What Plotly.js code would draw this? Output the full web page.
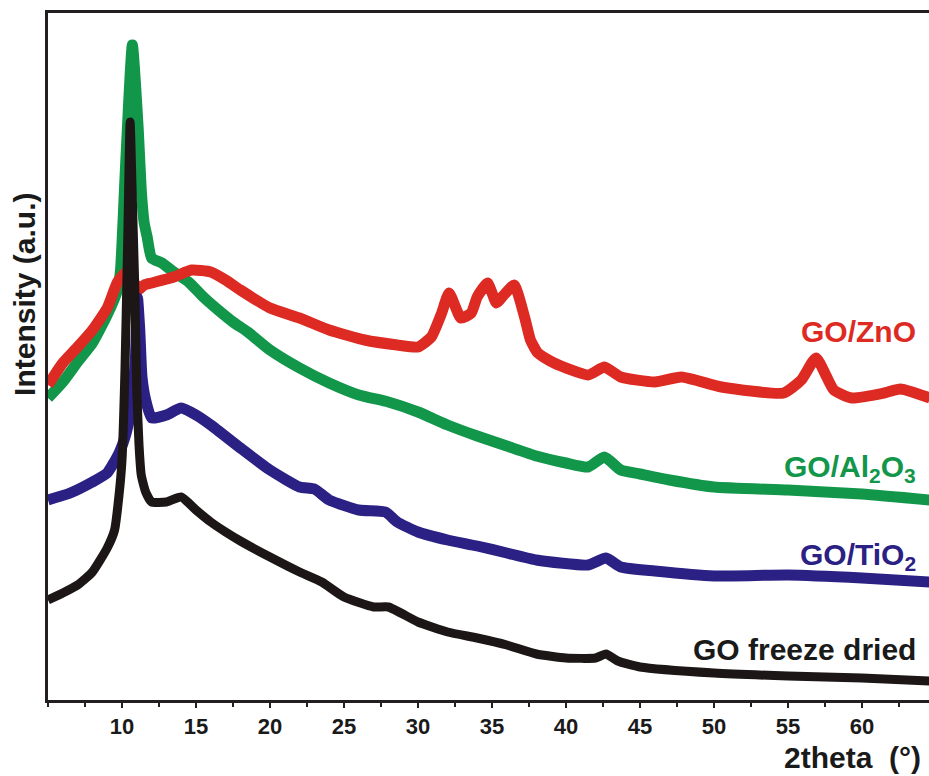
<!DOCTYPE html>
<html>
<head>
<meta charset="utf-8">
<script src="https://cdn.plot.ly/plotly-3.0.1.min.js"></script>
<style>html,body{margin:0;padding:0;background:#fff;}#chart{width:929px;height:776px;}</style>
</head>
<body>
<div id="chart"></div>
<script>
// 2theta (degrees) and intensity (a.u.), one array per series
var goX = [5.0, 6.0, 7.0, 8.0, 9.0, 9.5, 9.8, 10.0, 10.2, 10.4, 10.55, 10.7, 10.85, 11.0, 11.15, 11.3, 11.6, 12.0, 13.0, 14.0, 15.0, 16.0, 17.0, 18.0, 20.0, 22.0, 23.5, 25.0, 27.0, 28.0, 30.0, 32.0, 34.0, 36.0, 38.0, 40.0, 42.0, 42.7, 43.5, 45.0, 50.0, 55.0, 60.0, 64.6];
var goY = [100, 107, 115, 128, 152, 170, 205, 240, 330, 470, 578, 500, 420, 310, 255, 225, 208, 198, 198, 203, 190, 178, 168, 159, 143, 128, 118, 103, 93, 93, 78, 68, 62, 55, 46, 42, 42, 46, 39, 33, 27, 24, 22, 19];

var tiX = [5.0, 6.5, 8.0, 9.0, 9.8, 10.3, 10.6, 10.9, 11.05, 11.2, 11.35, 11.6, 12.0, 13.0, 14.0, 15.0, 16.0, 18.0, 20.0, 22.0, 23.0, 24.0, 26.0, 27.8, 28.6, 30.0, 32.0, 34.0, 36.0, 38.0, 41.5, 42.7, 43.7, 46.0, 50.0, 55.0, 60.0, 64.6];
var tiY = [200, 207, 218, 227, 247, 268, 290, 340, 402, 370, 323, 300, 282, 285, 292, 285, 275, 252, 230, 213, 211, 200, 190, 188, 178, 168, 160, 154, 147, 140, 135, 142, 133, 129, 124, 125, 122, 118];

var alX = [5.0, 6.0, 7.0, 8.0, 9.0, 9.7, 9.9, 10.25, 10.7, 11.1, 11.3, 11.5, 11.7, 12.0, 12.7, 13.5, 14.5, 15.5, 16.5, 17.5, 18.5, 20.0, 22.0, 24.0, 26.0, 28.0, 30.0, 32.0, 34.0, 36.0, 38.0, 40.0, 41.5, 42.6, 43.7, 45.0, 47.0, 50.0, 55.0, 60.0, 64.6];
var alY = [302, 318, 338, 357, 385, 410, 430, 537, 655, 570, 510, 477, 463, 442, 437, 428, 418, 403, 390, 378, 368, 350, 332, 317, 305, 298, 288, 275, 264, 254, 244, 237, 233, 243, 230, 226, 220, 213, 210, 206, 200];

var znX = [5.0, 6.0, 7.0, 8.0, 9.0, 9.7, 10.45, 10.8, 11.1, 11.5, 12.0, 13.5, 14.7, 16.0, 17.0, 18.0, 20.0, 22.0, 24.0, 26.4, 28.6, 30.0, 30.9, 31.6, 32.1, 32.9, 33.6, 34.0, 34.7, 35.3, 35.8, 36.5, 37.2, 37.6, 38.1, 39.2, 41.5, 42.6, 43.7, 46.0, 47.8, 50.5, 54.7, 55.9, 56.9, 58.1, 59.3, 61.5, 62.6, 64.6];
var znY = [315, 337, 353, 370, 392, 418, 430, 418, 410, 415, 417, 423, 430, 428, 420, 410, 392, 382, 370, 360, 355, 353, 363, 387, 407, 382, 387, 403, 417, 397, 405, 415, 383, 360, 347, 337, 325, 333, 323, 318, 323, 313, 307, 320, 342, 310, 302, 307, 311, 302];

var tickVals = [10, 15, 20, 25, 30, 35, 40, 45, 50, 55, 60];
var tickText = ['10', '15', '20', '25', '30', '35', '40', '45', '50', '55', '60'];

var cRed = '#dd2a22', cGreen = '#11964a', cBlue = '#2b2084', cBlack = '#1c1616';
var lw = 11;

function tr(x, y, color, w, name) {
  return {x: x, y: y, mode: 'lines', name: name,
          line: {color: color, width: w, shape: 'spline', smoothing: 0.5}};
}
var traces = [
  tr(alX, alY, cGreen, lw, 'GO/Al2O3'),
  tr(znX, znY, cRed, lw, 'GO/ZnO'),
  tr(tiX, tiY, cBlue, lw, 'GO/TiO2'),
  tr(goX, goY, cBlack, 9, 'GO freeze dried')
];

var fam = 'Liberation Sans, Arial, sans-serif';
function lab(text, color, px, py) {
  return {text: text, xref: 'paper', yref: 'paper', x: px, y: py, xanchor: 'right', yanchor: 'middle',
          showarrow: false, font: {family: fam, size: 30, color: color, weight: 'bold'}};
}

var layout = {
  width: 929, height: 776,
  margin: {l: 48, r: 0, t: 13, b: 76, pad: 0},
  paper_bgcolor: '#ffffff', plot_bgcolor: '#ffffff',
  showlegend: false,
  font: {family: fam, color: '#1a1a1a'},
  xaxis: {
    range: [5, 64.53], showgrid: false, zeroline: false,
    showline: true, mirror: true, linecolor: '#231f20', linewidth: 3,
    ticks: 'outside', ticklen: 5, tickwidth: 2, tickcolor: '#231f20',
    tickmode: 'array', tickvals: tickVals, ticktext: tickText,
    tickfont: {family: fam, size: 22, color: '#1a1a1a', weight: 'bold'},
    minor: {tickmode: 'linear', tick0: 0, dtick: 2.5, ticks: 'outside', ticklen: 4, tickwidth: 2, tickcolor: '#231f20'}
  },
  yaxis: {
    range: [0, 687], showgrid: false, zeroline: false, showticklabels: false, ticks: '',
    showline: true, mirror: false, linecolor: '#231f20', linewidth: 3
  },
  annotations: [
    lab('GO/ZnO', cRed, 0.9875, 0.536),
    lab('GO/Al<sub>2</sub>O<sub>3</sub>', cGreen, 0.9875, 0.337),
    lab('GO/TiO<sub>2</sub>', cBlue, 0.9875, 0.209),
    lab('GO freeze dried', '#1a1a1a', 0.9875, 0.0728),
    {text: '2theta  (°)', xref: 'paper', yref: 'paper', x: 0.993, y: -0.083, xanchor: 'right', yanchor: 'middle',
     showarrow: false, font: {family: fam, size: 30, color: '#1a1a1a', weight: 'bold'}},
    {text: 'Intensity (a.u.)', xref: 'paper', yref: 'paper', x: -0.027, y: 0.59, xanchor: 'center', yanchor: 'middle',
     textangle: -90, showarrow: false, font: {family: fam, size: 30, color: '#1a1a1a', weight: 'bold'}}
  ]
};

Plotly.newPlot('chart', traces, layout, {staticPlot: true, displayModeBar: false});
</script>
</body>
</html>
